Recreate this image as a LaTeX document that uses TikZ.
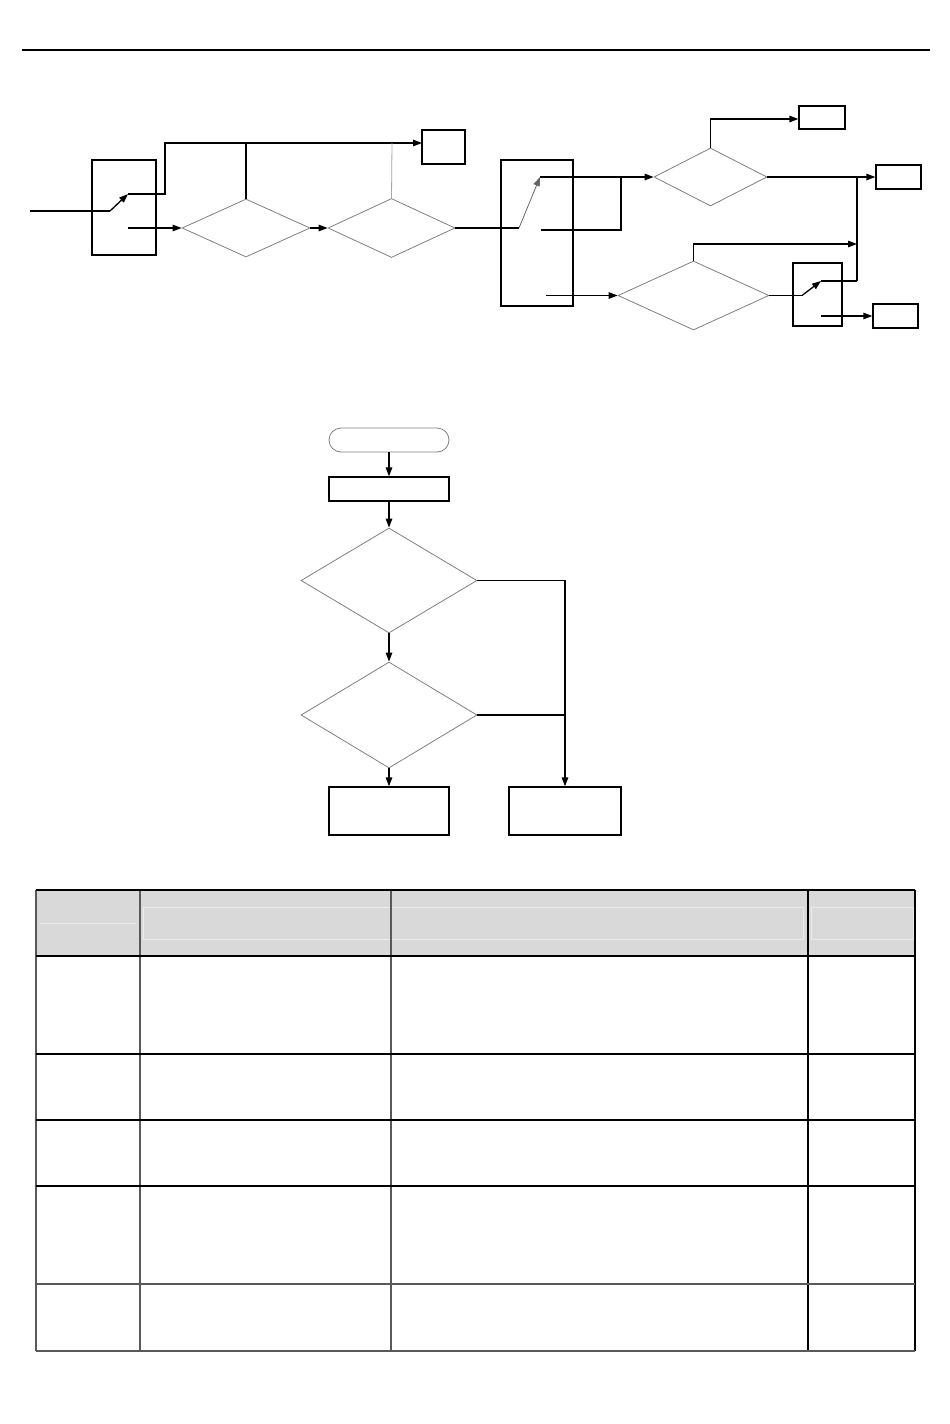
\documentclass[tikz,border=0pt]{standalone}
\usetikzlibrary{arrows.meta,shapes.geometric}
\begin{document}
\begin{tikzpicture}[x=1pt,y=-1pt,
  ln/.style={line width=1.3pt,black},
  arr/.style={ln,-{Triangle[length=9pt,width=6.5pt]}},
  bx/.style={draw,line width=1.3pt,inner sep=0pt,rectangle},
  dm/.style={draw=gray,line width=0.8pt,inner sep=0pt,diamond},
  grid/.style={line width=1.4pt},
  faint/.style={line width=0.8pt,color=black!8}]
\useasboundingbox (0,0) rectangle (950,1424);
\fill[white] (0,0) rectangle (950,1424);
% top rule
\draw[line width=2pt] (22,50) -- (930,50);

% ---------- top diagram ----------
\node[bx,minimum width=64pt,minimum height=95pt] (boxA) at (124,207.5) {};
\node[bx,minimum width=43pt,minimum height=34pt] (boxB) at (443.5,147) {};
\node[dm,minimum width=128pt,minimum height=58pt,aspect=2.2] (d1) at (246,228) {};
\node[dm,minimum width=127pt,minimum height=59pt,aspect=2.15] (d2) at (391.5,228) {};
\node[bx,minimum width=72pt,minimum height=146pt] (boxC) at (537,233) {};
\node[dm,minimum width=113pt,minimum height=58pt,aspect=1.95] (d3) at (710.5,177) {};
\node[bx,minimum width=46pt,minimum height=23pt] (boxD) at (822,117.5) {};
\node[bx,minimum width=45pt,minimum height=24pt] (boxE) at (898.5,177) {};
\node[dm,minimum width=151pt,minimum height=69pt,aspect=2.19] (d4) at (693.5,295.5) {};
\node[bx,minimum width=49pt,minimum height=63pt] (boxF) at (817.5,294.5) {};
\node[bx,minimum width=45pt,minimum height=24pt] (boxG) at (895.5,316) {};

\coordinate (inA) at (30,211);
\coordinate (sA1) at (110,211);
\coordinate (sA2) at (128,194);
\coordinate (kA) at (165,194);
\coordinate (jB) at (422,143);
\coordinate (j1) at (246,143);
\coordinate (j2) at (392,143);
\coordinate (oA) at (128,228);
\coordinate (sC1) at (519,228);
\coordinate (sC2) at (540,177);
\coordinate (oC1) at (541,230);
\coordinate (kC) at (621,230);
\coordinate (kC2) at (621,177);
\coordinate (oC2) at (546,295.5);
\coordinate (kD) at (710,119);
\coordinate (vT) at (857,177);
\coordinate (vB) at (857,281);
\coordinate (vM) at (857,244);
\coordinate (sF1) at (802,295.5);
\coordinate (sF2) at (821,281);
\coordinate (oF) at (821,316);

\draw[ln] (inA) -- (sA1);
\draw[arr] (sA1) -- (sA2);
\draw[arr] (sA2) -- (kA) |- (jB);
\draw[ln] (j1) -- (d1.north);
\draw[line width=0.8pt,gray!70] (j2) -- (d2.north);
\draw[arr] (oA) -- (d1.west);
\draw[arr] (d1.east) -- (d2.west);
\draw[ln] (d2.east) -- (sC1);
\draw[arr,line width=0.8pt,gray!80!black] (sC1) -- (sC2);
\draw[arr] (sC2) -- (d3.west);
\draw[ln] (oC1) -- (kC) -- (kC2);
\draw[arr] (d3.north) |- (kD) -- (boxD.west |- kD);
\draw[arr] (d3.east) -- (boxE.west);
\draw[ln] (vT) -- (vB);
\draw[arr] (oC2) -- (d4.west);
\draw[arr] (d4.north) |- (vM);
\draw[ln] (d4.east) -- (sF1);
\draw[arr] (sF1) -- (sF2);
\draw[ln] (sF2) -- (vB);
\draw[arr] (oF) -- (boxG.west);

% ---------- middle flowchart ----------
\node[draw=gray,line width=0.8pt,rounded corners=12pt,minimum width=120pt,minimum height=24pt,inner sep=0pt] (term) at (389,440) {};
\node[bx,minimum width=120pt,minimum height=24pt] (b1) at (389,489) {};
\node[dm,minimum width=176pt,minimum height=105pt,aspect=1.68] (md1) at (389,580.5) {};
\node[dm,minimum width=176pt,minimum height=106pt,aspect=1.66] (md2) at (389,715) {};
\node[bx,minimum width=120pt,minimum height=48pt] (bL) at (389,811) {};
\node[bx,minimum width=112pt,minimum height=48pt] (bR) at (565,811) {};
\coordinate (mk) at (565,715);

\draw[arr] (term.south) -- (b1.north);
\draw[arr] (b1.south) -- (md1.north);
\draw[arr] (md1.south) -- (md2.north);
\draw[arr] (md2.south) -- (bL.north);
\draw[arr] (md1.east) -| (bR.north);
\draw[ln] (md2.east) -- (mk);

% ---------- table ----------
\fill[black!15] (36,890) rectangle (915,956);
\draw[faint] (40,923) -- (136,923);
\draw[faint] (143,907) rectangle (803,939);
\draw[faint] (811,907) rectangle (913,939);
\draw[grid,black!65] (36,890) -- (36,1351);
\draw[grid,black!65] (140,890) -- (140,1351);
\draw[grid,black!65] (391,890) -- (391,1351);
\draw[grid,black] (808,890) -- (808,1351);
\draw[grid,black] (915,890) -- (915,1351);
\draw[grid] (36,890) -- (915,890);
\draw[grid] (36,956) -- (915,956);
\draw[grid] (36,1054) -- (915,1054);
\draw[grid] (36,1120) -- (915,1120);
\draw[grid] (36,1186) -- (915,1186);
\draw[grid,black!65] (36,1284) -- (915,1284);
\draw[grid,black!65] (36,1351) -- (915,1351);
\end{tikzpicture}
\end{document}
